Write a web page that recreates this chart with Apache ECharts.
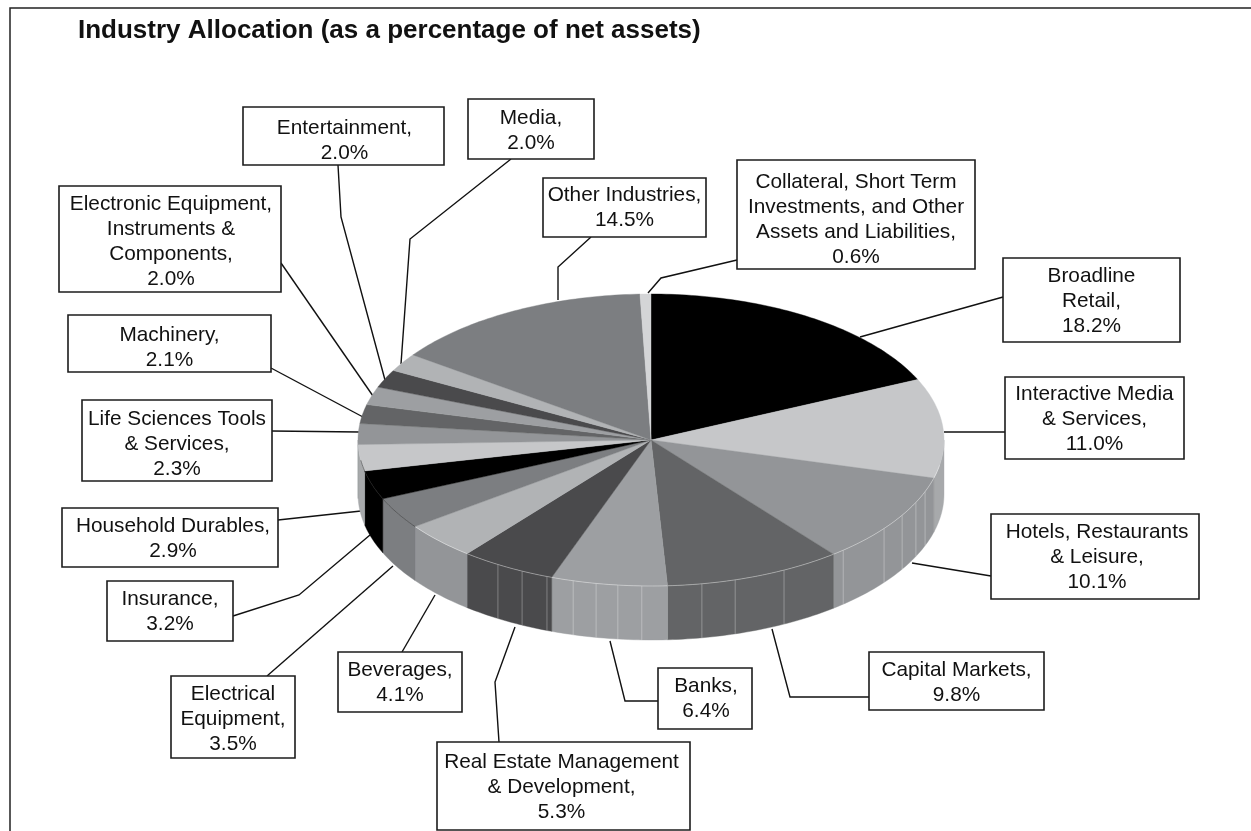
<!DOCTYPE html>
<html>
<head>
<meta charset="utf-8">
<title>Industry Allocation</title>
<script src="https://cdn.jsdelivr.net/npm/echarts@6/dist/echarts.min.js"></script>
<style>
  html, body { margin: 0; padding: 0; background: #fff; }
  #main { width: 1251px; height: 831px; }
</style>
</head>
<body>
<div id="main"></div>
<script>
// clockwise from 12 o'clock, as in the reference
var categories = [
  'Broadline\nRetail,',
  'Interactive Media\n& Services,',
  'Hotels, Restaurants\n& Leisure,',
  'Capital Markets,',
  'Banks,',
  'Real Estate Management\n& Development,',
  'Beverages,',
  'Electrical\nEquipment,',
  'Insurance,',
  'Household Durables,',
  'Life Sciences Tools\n& Services,',
  'Machinery,',
  'Electronic Equipment,\nInstruments &\nComponents,',
  'Entertainment,',
  'Media,',
  'Other Industries,',
  'Collateral, Short Term\nInvestments, and Other\nAssets and Liabilities,'
];
var values = [18.2, 11.0, 10.1, 9.8, 6.4, 5.3, 4.1, 3.5, 3.2, 2.9, 2.3, 2.1, 2.0, 2.0, 2.0, 14.5, 0.6];

var topColors = ['#000000', '#c6c7c9', '#939598', '#636466', '#9d9fa2', '#4a4a4c', '#b1b3b5', '#7c7e81', '#000000',
  '#c6c7c9', '#939598', '#636466', '#9d9fa2', '#4a4a4c', '#b1b3b5', '#7c7e81', '#d4d5d7'];
var sideColors = ['#000000', '#a7a9ab', '#939598', '#636466', '#9d9fa2', '#4a4a4c', '#939598', '#7c7e81', '#000000',
  '#a7a9ab', '#939598', '#636466', '#9d9fa2', '#4a4a4c', '#939598', '#7c7e81', '#d4d5d7'];

// label boxes: x, y, w, h
var boxes = [
  [1003, 258, 177, 84], [1005, 377, 179, 82], [991, 514, 208, 85], [869, 652, 175, 58],
  [658, 668, 94, 61], [437, 742, 253, 88], [338, 652, 124, 60], [171, 676, 124, 82],
  [107, 581, 126, 60], [62, 508, 216, 59], [82, 400, 190, 81], [68, 315, 203, 57],
  [59, 186, 222, 106], [243, 107, 201, 58], [468, 99, 126, 60], [543, 178, 163, 59],
  [737, 160, 238, 109]
];
// text nudge inside each box: dx, dy
var textNudge = [
  [0, 1.5], [0, 1.5], [2, 1], [0, 2],
  [1, 0], [-2, 1.5], [0, 1], [0, 2.5],
  [0, 0.5], [3, 1.5], [0, 4], [0, 4],
  [1, 2.5], [1, 5], [0, 2], [0, 0],
  [0, 5]
];
// leader polylines, box end to pie end
var leaders = [
  [[1003, 297], [860, 337]],
  [[1005, 432], [944, 432]],
  [[991, 576], [912, 563]],
  [[869, 697], [790, 697], [772, 629]],
  [[658, 701], [625, 701], [610, 641]],
  [[499, 742], [495, 682], [515, 627]],
  [[402, 652], [435, 595]],
  [[267, 676], [393, 566]],
  [[233, 616], [299, 595], [370, 535]],
  [[278, 520], [361, 511]],
  [[272, 431], [359, 432]],
  [[271, 368], [363, 417]],
  [[281, 263], [373, 396]],
  [[338, 165], [341, 217], [385, 380]],
  [[511, 159], [410, 239], [401, 364]],
  [[591, 237], [558, 267], [558, 300]],
  [[737, 260], [661, 278], [648, 293]]
];
// faint vertical seams on the rim, in degrees clockwise from top
var seamAngles = [110.7, 115.3, 121, 127.3, 139, 153, 163.3, 170, 181.8, 186.5, 190.8, 195.4, 200.8, 206.1, 211.5];

var cx = 651, cy = 440, rx = 293, ry = 146, depth = 54;
var total = values.reduce(function (a, b) { return a + b; }, 0);

function startOf(idx) {
  var s = 0;
  for (var i = 0; i < idx; i++) s += values[i];
  return s / total * 360;
}
function rimPoint(deg, dy) {
  var a = deg * Math.PI / 180;
  return [cx + rx * Math.sin(a), cy - ry * Math.cos(a) + (dy || 0)];
}
function arc(a0, a1, dy) {
  var pts = [], n = Math.max(2, Math.ceil(Math.abs(a1 - a0)));
  for (var i = 0; i <= n; i++) pts.push(rimPoint(a0 + (a1 - a0) * i / n, dy));
  return pts;
}

function renderTop(params, api) {
  var i = params.dataIndex;
  var a0 = startOf(i), a1 = a0 + api.value(0) / total * 360;
  var pts = [[cx, cy]].concat(arc(a0, a1));
  var kids = [{
    type: 'polygon',
    shape: { points: pts },
    style: { fill: topColors[i], stroke: topColors[i], lineWidth: 0.4 }
  }];
  // thin rim highlight along the front edge
  var f0 = Math.max(a0, 100), f1 = Math.min(a1, 262);
  if (f1 > f0) {
    kids.push({
      type: 'polyline',
      shape: { points: arc(f0, f1) },
      style: { fill: 'none', stroke: f0 < 219 ? 'rgba(255,255,255,0.55)' : 'rgba(40,40,40,0.7)', lineWidth: 0.7 }
    });
  }
  return { type: 'group', children: kids };
}

function renderSide(params, api) {
  var i = params.dataIndex;
  var a0 = startOf(i), a1 = a0 + api.value(0) / total * 360;
  var s0 = Math.max(a0, 90), s1 = Math.min(a1, 270);
  if (s1 <= s0) return null;
  var pts = arc(s0, s1).concat(arc(s1, s0, depth));
  var kids = [{
    type: 'polygon',
    shape: { points: pts },
    style: { fill: sideColors[i], stroke: sideColors[i], lineWidth: 0.4 }
  }];
  seamAngles.forEach(function (s) {
    if (s > s0 && s < s1) {
      kids.push({
        type: 'line',
        shape: { x1: rimPoint(s)[0], y1: rimPoint(s)[1], x2: rimPoint(s)[0], y2: rimPoint(s, depth)[1] },
        style: { stroke: 'rgba(255,255,255,0.3)', lineWidth: 1 }
      });
    }
  });
  return { type: 'group', children: kids };
}

var graphics = [{
  type: 'polyline',
  shape: { points: [[10, 831], [10, 8], [1251, 8]] },
  style: { fill: 'none', stroke: '#222', lineWidth: 1.5 }
}];
leaders.forEach(function (pts) {
  graphics.push({ type: 'polyline', z: 1, shape: { points: pts }, style: { fill: 'none', stroke: '#111', lineWidth: 1.4 } });
});
boxes.forEach(function (b, i) {
  graphics.push({
    type: 'rect', z: 5,
    shape: { x: b[0], y: b[1], width: b[2], height: b[3] },
    style: { fill: '#fff', stroke: '#1c1c1c', lineWidth: 1.6 }
  });
  graphics.push({
    type: 'text', z: 6,
    x: b[0] + b[2] / 2 + textNudge[i][0], y: b[1] + b[3] / 2 + textNudge[i][1],
    style: {
      text: categories[i] + '\n' + values[i].toFixed(1) + '%',
      fill: '#111',
      font: '20.8px "Liberation Sans", Arial, sans-serif',
      lineHeight: 25,
      align: 'center',
      verticalAlign: 'middle'
    }
  });
});

var myChart = echarts.init(document.getElementById('main'), null, { renderer: 'canvas' });
myChart.setOption({
  animation: false,
  backgroundColor: '#fff',
  title: {
    text: 'Industry Allocation (as a percentage of net assets)',
    left: 78, top: 18,
    padding: 0,
    textStyle: { color: '#111', fontSize: 26, fontWeight: 'bold', fontFamily: '"Liberation Sans", Arial, sans-serif' }
  },
  graphic: graphics,
  series: [
    { type: 'custom', coordinateSystem: 'none', z: 2, silent: true, renderItem: renderSide, data: values },
    { type: 'custom', coordinateSystem: 'none', z: 3, silent: true, renderItem: renderTop, data: values }
  ]
});
</script>
</body>
</html>
